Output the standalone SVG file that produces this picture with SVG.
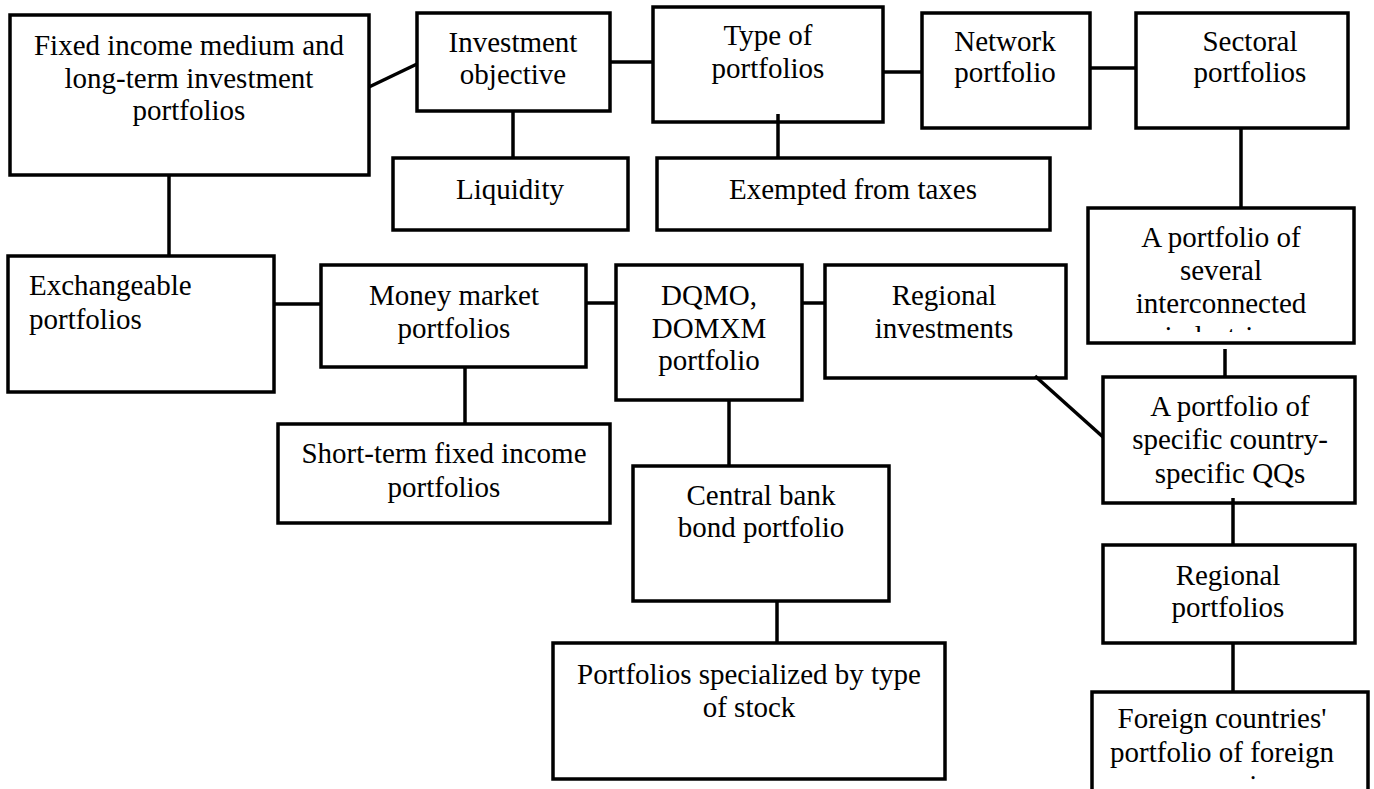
<svg xmlns="http://www.w3.org/2000/svg" width="1374" height="789" viewBox="0 0 1374 789">
<style>
.b{fill:#fff;stroke:#000;stroke-width:3.5}
.t{font-family:"Liberation Serif","Times New Roman",serif;font-size:29px;fill:#000;text-anchor:middle}
.l{text-anchor:start}
.c{stroke:#000;stroke-width:3.5;fill:none}
</style>
<defs>
<clipPath id="clipSeveral"><rect x="1088" y="208" width="266" height="124"/></clipPath>
<clipPath id="clipForeign"><rect x="1092" y="692" width="276" height="89"/></clipPath>
</defs>
<rect width="1374" height="789" fill="#fff"/>
<g id="nodes">
<g id="n-fixed"><rect class="b" x="10" y="15" width="359" height="160"/><text class="t" x="189" y="55">Fixed income medium and</text><text class="t" x="189" y="88">long-term investment</text><text class="t" x="189" y="120">portfolios</text></g>
<g id="n-invobj"><rect class="b" x="417" y="13" width="193" height="98"/><text class="t" x="513" y="52">Investment</text><text class="t" x="513" y="84">objective</text></g>
<g id="n-type"><rect class="b" x="653" y="7" width="230" height="115"/><text class="t" x="768" y="45">Type of</text><text class="t" x="768" y="78">portfolios</text></g>
<g id="n-network"><rect class="b" x="922" y="13" width="168" height="115"/><text class="t" x="1005" y="51">Network</text><text class="t" x="1005" y="82">portfolio</text></g>
<g id="n-sectoral"><rect class="b" x="1136" y="13" width="212" height="115"/><text class="t" x="1250" y="51">Sectoral</text><text class="t" x="1250" y="82">portfolios</text></g>
<g id="n-liquidity"><rect class="b" x="393" y="158" width="235" height="72"/><text class="t" x="510" y="199">Liquidity</text></g>
<g id="n-exempted"><rect class="b" x="657" y="158" width="393" height="72"/><text class="t" x="853" y="199">Exempted from taxes</text></g>
<g id="n-several"><rect class="b" x="1088" y="208" width="266" height="135"/><g clip-path="url(#clipSeveral)"><text class="t" x="1221" y="247">A portfolio of</text><text class="t" x="1221" y="280">several</text><text class="t" x="1221" y="313">interconnected</text><text class="t" x="1221" y="346">industries</text></g></g>
<g id="n-exch"><rect class="b" x="8" y="256" width="266" height="136"/><text class="t l" x="29" y="295">Exchangeable</text><text class="t l" x="29" y="329">portfolios</text></g>
<g id="n-money"><rect class="b" x="321" y="265" width="265" height="102"/><text class="t" x="454" y="305">Money market</text><text class="t" x="454" y="338">portfolios</text></g>
<g id="n-dqmo"><rect class="b" x="616" y="265" width="186" height="135"/><text class="t" x="709" y="305">DQMO,</text><text class="t" x="709" y="338">DOMXM</text><text class="t" x="709" y="370">portfolio</text></g>
<g id="n-reginv"><rect class="b" x="825" y="265" width="241" height="113"/><text class="t" x="944" y="305">Regional</text><text class="t" x="944" y="338">investments</text></g>
<g id="n-specific"><rect class="b" x="1103" y="377" width="252" height="126"/><text class="t" x="1230" y="416">A portfolio of</text><text class="t" x="1230" y="449">specific country-</text><text class="t" x="1230" y="483">specific QQs</text></g>
<g id="n-short"><rect class="b" x="278" y="424" width="332" height="99"/><text class="t" x="444" y="463">Short-term fixed income</text><text class="t" x="444" y="497">portfolios</text></g>
<g id="n-central"><rect class="b" x="633" y="466" width="256" height="135"/><text class="t" x="761" y="505">Central bank</text><text class="t" x="761" y="537">bond portfolio</text></g>
<g id="n-regport"><rect class="b" x="1103" y="545" width="252" height="98"/><text class="t" x="1228" y="585">Regional</text><text class="t" x="1228" y="617">portfolios</text></g>
<g id="n-special"><rect class="b" x="553" y="643" width="392" height="136"/><text class="t" x="749" y="684">Portfolios specialized by type</text><text class="t" x="749" y="717">of stock</text></g>
<g id="n-foreign"><rect class="b" x="1092" y="692" width="276" height="120"/><g clip-path="url(#clipForeign)"><text class="t" x="1222" y="728">Foreign countries'</text><text class="t" x="1222" y="762">portfolio of foreign</text><text class="t" x="1222" y="795">currencies</text></g></g>
</g>
<g id="connectors">
<line class="c" x1="369" y1="87" x2="417" y2="64"/>
<line class="c" x1="610" y1="62" x2="653" y2="62"/>
<line class="c" x1="883" y1="72" x2="922" y2="72"/>
<line class="c" x1="1090" y1="68" x2="1136" y2="68"/>
<line class="c" x1="513" y1="111" x2="513" y2="158"/>
<line class="c" x1="778" y1="114" x2="778" y2="158"/>
<line class="c" x1="1241" y1="128" x2="1241" y2="208"/>
<line class="c" x1="169" y1="175" x2="169" y2="256"/>
<line class="c" x1="274" y1="304" x2="321" y2="304"/>
<line class="c" x1="586" y1="303" x2="616" y2="303"/>
<line class="c" x1="802" y1="303" x2="825" y2="303"/>
<line class="c" x1="465" y1="367" x2="465" y2="424"/>
<line class="c" x1="729" y1="400" x2="729" y2="466"/>
<line class="c" x1="777" y1="601" x2="777" y2="643"/>
<line class="c" x1="1035" y1="376" x2="1103" y2="437"/>
<line class="c" x1="1225" y1="349" x2="1225" y2="377"/>
<line class="c" x1="1233" y1="498" x2="1233" y2="545"/>
<line class="c" x1="1233" y1="643" x2="1233" y2="692"/>
</g>
</svg>
